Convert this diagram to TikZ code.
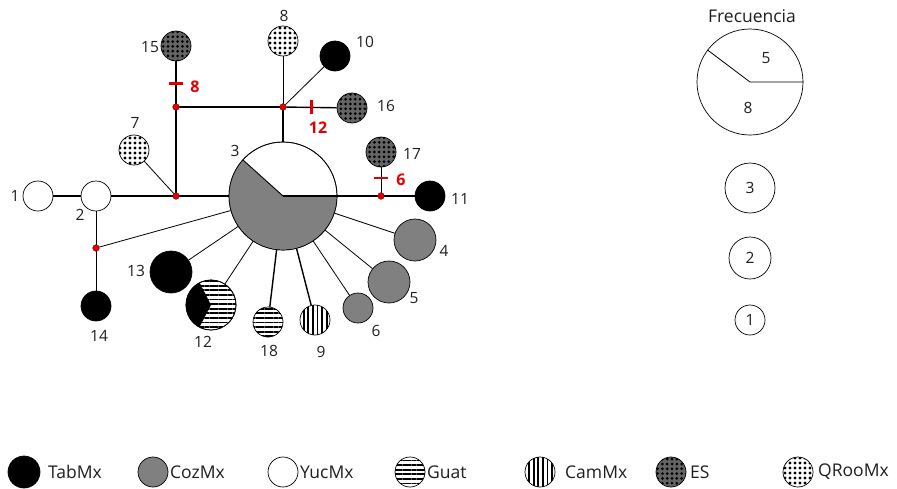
\documentclass[tikz,border=0pt]{standalone}
\usepackage{fontspec}
\setmainfont{Open Sans}
\usetikzlibrary{patterns.meta,calc}
\definecolor{cozgray}{RGB}{128,128,128}
\definecolor{esgray}{RGB}{100,100,100}
\definecolor{lbl}{RGB}{30,30,30}
\definecolor{mut}{RGB}{225,0,0}
\begin{document}
\begin{tikzpicture}[x=1pt,y=1pt,
  hap/.style={circle, draw=black, line width=0.7pt, inner sep=0pt, minimum size=30pt},
  ftwo/.style={minimum size=42pt},
  fthree/.style={minimum size=50pt},
  fbig/.style={minimum size=108pt},
  tab/.style={hap, fill=black},
  coz/.style={hap, fill=cozgray},
  yuc/.style={hap, fill=white},
  guat/.style={hap, fill=white, postaction={pattern={Lines[angle=0,distance=4.6pt,line width=1.8pt]}}},
  cam/.style={hap, fill=white, postaction={pattern={Lines[angle=90,distance=4.6pt,line width=1.8pt]}}},
  es/.style={hap, fill=esgray, postaction={pattern={Dots[radius=1.5pt,distance=4.8pt]}}},
  qroo/.style={hap, fill=white, postaction={pattern={Dots[radius=1.6pt,distance=5pt]}}},
  junction/.style={circle, fill=mut, draw=mut!70!black, line width=0.3pt, inner sep=0pt, minimum size=6.5pt},
  link/.style={line width=1.4pt},
  twig/.style={line width=0.8pt},
  tick/.style={draw=mut, line width=2.8pt},
  lab/.style={text=lbl, font=\fontsize{15.5}{15.5}\selectfont, inner sep=0pt},
  mlab/.style={text=mut, font=\bfseries\fontsize{16}{16}\selectfont, inner sep=0pt},
  leg/.style={text=lbl, font=\fontsize{17.5}{17.5}\selectfont, inner sep=0pt, anchor=west}
]
\useasboundingbox (0,0) rectangle (897,-488);

% haplotype circles
\node[yuc] (h1) at (38,-196) {};
\node[yuc] (h2) at (96,-196) {};
\node[tab] (h14) at (96,-306) {};
\node[tab,ftwo] (h13) at (171,-272) {};
\node[qroo] (h7) at (134,-150) {};
\node[es] (h15) at (176,-46) {};
\node[qroo] (h8) at (283,-41) {};
\node[tab] (h10) at (335,-56) {};
\node[es] (h16) at (352,-108) {};
\node[hap,fbig,fill=white] (h3) at (283,-196) {};
\node[es] (h17) at (381,-152) {};
\node[tab] (h11) at (430,-196) {};
\node[coz,ftwo] (h4) at (415,-240) {};
\node[coz,ftwo] (h5) at (389,-282) {};
\node[coz] (h6) at (358,-308) {};
\node[cam] (h9) at (315,-320) {};
\node[guat] (h18) at (268,-322) {};
\node[guat,fthree] (h12) at (211,-305) {};

% median vectors
\node[junction] (j1) at (176,-196) {};
\node[junction] (j2) at (96,-248) {};
\node[junction] (j3) at (176,-107) {};
\node[junction] (j4) at (283,-107) {};
\node[junction] (j5) at (381,-196) {};

% pie of haplotype 3 (5 YucMx, 8 CozMx)
\fill[cozgray] (h3.center) -- (h3.138.5) arc[start angle=138.5, end angle=360, radius=54pt] -- cycle;
\draw[line width=0.9pt] (h3.138.5) -- (h3.center);
\draw[line width=1.4pt] (h3.center) -- (h3.east);
\draw[line width=0.7pt] (h3.center) circle[radius=54pt];

% pie of haplotype 12 (1 TabMx, 2 Guat)
\fill[black] (h12.center) -- (h12.117) arc[start angle=117, end angle=243, radius=25pt] -- cycle;
\draw[line width=0.7pt] (h12.center) circle[radius=25pt];

% connectors
\draw[link] (h1) -- (h2);
\draw[link] (h2) -- (j1);
\draw[link] (j1) -- (h3);
\draw[link] (j1) -- (j3);
\draw[link] (j3) -- (h15);
\draw[link] (j3) -- (j4);
\draw[twig] (j4) -- (h8);
\draw[link] (j4) -- (h16);
\draw[link] (j4) -- (h3);
\draw[link] (h3) -- (j5);
\draw[link] (j5) -- (h11);
\draw[twig] (j5) -- (h17);
\draw[twig] (j1) -- (h7);
\draw[twig] (j4) -- (h10);
\draw[twig] (h2) -- (j2);
\draw[twig] (j2) -- (h14);
\draw[twig] (j2) -- (h3);
\draw[twig] (h3) -- (h13);
\draw[twig] (h3) -- (h12);
\draw[link] (h3) -- (h18);
\draw[link] (h3) -- (h9);
\draw[twig] (h3) -- (h6);
\draw[twig] (h3) -- (h5);
\draw[twig] (h3) -- (h4);

% junction dots on top of the lines
\foreach \j in {j1,j2,j3,j4,j5} \node[junction] at (\j) {};

% mutation marks
\draw[tick] ($(j3)!0.39!(h15)$) +(-7,0) -- +(7,0);
\draw[tick] ($(j4)!0.41!(h16)$) +(0,-7) -- +(0,7);
\draw[tick] ($(j5)!0.41!(h17)$) +(-7,0) -- +(7,0);
\node[mlab] (m8) at (195,-87) {8};
\node[mlab] (m12) at (318,-128) {12};
\node[mlab] (m6) at (401,-180) {6};

% haplotype numbers
\node[lab] (l1) at (15,-196) {1};
\node[lab] (l2) at (80,-215) {2};
\node[lab] (l14) at (99,-336) {14};
\node[lab] (l13) at (136,-271) {13};
\node[lab] (l7) at (135,-123) {7};
\node[lab] (l15) at (150,-47) {15};
\node[lab] (l8) at (284,-16) {8};
\node[lab] (l10) at (365,-42) {10};
\node[lab] (l16) at (386,-106) {16};
\node[lab] (l3) at (235,-151) {3};
\node[lab] (l17) at (412,-154) {17};
\node[lab] (l11) at (460,-199) {11};
\node[lab] (l4) at (444,-251) {4};
\node[lab] (l5) at (414,-298) {5};
\node[lab] (l6) at (376,-331) {6};
\node[lab] (l9) at (321,-352) {9};
\node[lab] (l18) at (269,-351) {18};
\node[lab] (l12) at (203,-342) {12};

% frequency key
\node[lab, font=\fontsize{17.5}{17.5}\selectfont] (fq) at (752,-16) {Frecuencia};
\node[yuc, minimum size=106pt] (k13) at (750,-82) {};
\draw[twig] (k13.143) -- (k13.center) -- (k13.east);
\node[lab] (k5) at (766,-58) {5};
\node[lab] (k8) at (748,-108) {8};
\node[yuc, fthree, lab] (k3) at (750,-188) {3};
\node[yuc, ftwo, lab] (k2) at (750,-258) {2};
\node[yuc, lab] (k1) at (750,-320) {1};

% population key
\node[tab, minimum size=32pt] (p1) at (24,-472) {};
\node[leg] (t1) at (48,-472) {TabMx};
\node[coz] (p2) at (153,-472) {};
\node[leg] (t2) at (170,-472) {CozMx};
\node[yuc] (p3) at (283,-472) {};
\node[leg] (t3) at (300,-472) {YucMx};
\node[guat] (p4) at (410,-472) {};
\node[leg] (t4) at (427,-472) {Guat};
\node[cam] (p5) at (540,-472) {};
\node[leg] (t5) at (565,-472) {CamMx};
\node[es] (p6) at (671,-472) {};
\node[leg] (t6) at (690,-472) {ES};
\node[qroo] (p7) at (798,-472) {};
\node[leg] (t7) at (818,-472) {QRooMx};
\end{tikzpicture}
\end{document}
